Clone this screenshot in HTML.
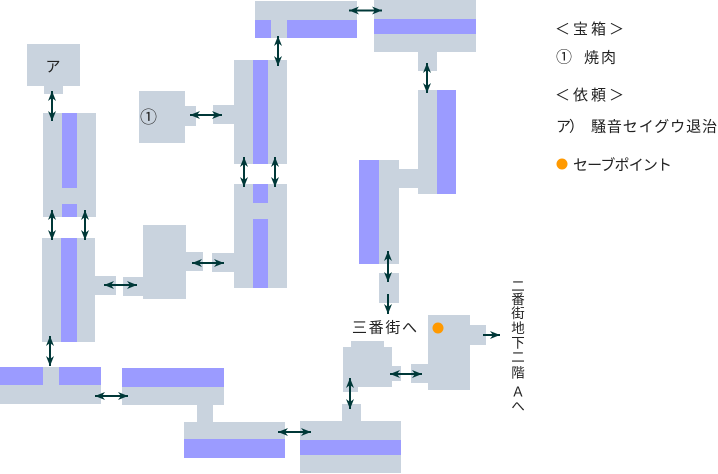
<!DOCTYPE html>
<html><head><meta charset="utf-8"><style>
html,body{margin:0;padding:0;background:#fff;}
svg{display:block;}
text{font-family:"Liberation Sans","Noto Sans CJK JP",sans-serif;fill:#222;}
</style></head><body>
<svg width="718" height="474" viewBox="0 0 718 474" xmlns="http://www.w3.org/2000/svg">
<defs>
<marker id="ah" viewBox="0 0 10 8" refX="10" refY="4" markerWidth="10" markerHeight="8" markerUnits="userSpaceOnUse" orient="auto-start-reverse">
<path d="M0,0 L10,4 L0,8 L3,4 z" fill="#003838"/>
</marker>
</defs>
<g fill="#c9d3de">
<rect x="27" y="44" width="53" height="42"/>
<rect x="44" y="86" width="19" height="8"/>
<rect x="43" y="113" width="53" height="104"/>
<rect x="42" y="238" width="53" height="104"/>
<rect x="95" y="276" width="21" height="19"/>
<rect x="123" y="277" width="20" height="19"/>
<rect x="143" y="225" width="43" height="74"/>
<rect x="186" y="252" width="17" height="19"/>
<rect x="212" y="253" width="22" height="19"/>
<rect x="139" y="91" width="46" height="52"/>
<rect x="185" y="106" width="11" height="20"/>
<rect x="213" y="105" width="21" height="19"/>
<rect x="234" y="60" width="53" height="104"/>
<rect x="234" y="184" width="53" height="104"/>
<rect x="255" y="1" width="102" height="37"/>
<rect x="374" y="0" width="102" height="52"/>
<rect x="418" y="52" width="19" height="19"/>
<rect x="418" y="90" width="19" height="104"/>
<rect x="399" y="169" width="19" height="19"/>
<rect x="379" y="160" width="20" height="104"/>
<rect x="379" y="273" width="20" height="30"/>
<rect x="428" y="315" width="42" height="75"/>
<rect x="470" y="325" width="16" height="20"/>
<rect x="411" y="364" width="17" height="19"/>
<rect x="351" y="341" width="33" height="46"/>
<rect x="343" y="347" width="49" height="40"/>
<rect x="343" y="347" width="15" height="45"/>
<rect x="392" y="366" width="9" height="15"/>
<rect x="342" y="404" width="19" height="17"/>
<rect x="300" y="421" width="101" height="52"/>
<rect x="184" y="422" width="101" height="36"/>
<rect x="197" y="405" width="16" height="17"/>
<rect x="122" y="368" width="102" height="37"/>
<rect x="0" y="367" width="101" height="37"/>
</g>
<g fill="#9b9bff">
<rect x="62" y="113" width="15" height="75"/>
<rect x="62" y="204" width="15" height="13"/>
<rect x="61" y="238" width="16" height="104"/>
<rect x="253" y="60" width="15" height="104"/>
<rect x="253" y="184" width="15" height="19"/>
<rect x="253" y="219" width="15" height="69"/>
<rect x="255" y="20" width="16" height="18"/>
<rect x="287" y="20" width="70" height="18"/>
<rect x="374" y="19" width="102" height="15"/>
<rect x="437" y="90" width="19" height="104"/>
<rect x="359" y="160" width="20" height="104"/>
<rect x="300" y="440" width="101" height="15"/>
<rect x="184" y="439" width="101" height="19"/>
<rect x="122" y="368" width="102" height="19"/>
<rect x="0" y="367" width="43" height="18"/>
<rect x="59" y="367" width="42" height="18"/>
</g>
<g stroke="#003838" stroke-width="2" fill="none" marker-start="url(#ah)" marker-end="url(#ah)">
<line x1="190" y1="115" x2="222" y2="115"/>
<line x1="104" y1="285" x2="137" y2="285"/>
<line x1="192" y1="263" x2="224" y2="263"/>
<line x1="349" y1="10.5" x2="382" y2="10.5"/>
<line x1="95" y1="396" x2="128" y2="396"/>
<line x1="278" y1="432" x2="311" y2="432"/>
<line x1="390" y1="374" x2="422" y2="374"/>
<line x1="52" y1="91" x2="52" y2="121"/>
<line x1="52" y1="210" x2="52" y2="240"/>
<line x1="85" y1="210" x2="85" y2="240"/>
<line x1="244" y1="157" x2="244" y2="187"/>
<line x1="275" y1="157" x2="275" y2="187"/>
<line x1="278" y1="36" x2="278" y2="66"/>
<line x1="427" y1="63" x2="427" y2="93"/>
<line x1="388" y1="251" x2="388" y2="282"/>
<line x1="50" y1="336" x2="50" y2="366"/>
<line x1="350" y1="378" x2="350" y2="409"/>
</g>
<g stroke="#003838" stroke-width="2" fill="none" marker-end="url(#ah)">
<line x1="388" y1="294" x2="388" y2="314"/>
<line x1="483" y1="335" x2="500" y2="335"/>
</g>
<circle cx="438" cy="328" r="5.5" fill="#ff9900"/>
<circle cx="562" cy="164" r="5.5" fill="#ff9900"/>
<text x="53" y="71.5" font-size="15" text-anchor="middle">ア</text>
<text x="140" y="123" font-size="17">①</text>
<text x="352" y="332.5" font-size="15" fill="#333" textLength="65" lengthAdjust="spacing">三番街へ</text>
<g font-size="13.5" text-anchor="middle" fill="#333">
<text x="518" y="291">二</text>
<text x="518" y="304">番</text>
<text x="518" y="318">街</text>
<text x="518" y="333">地</text>
<text x="518" y="347.5">下</text>
<text x="518" y="362">二</text>
<text x="518" y="377.5">階</text>
<text x="518" y="396.5">Ａ</text>
<text x="518" y="411">へ</text>
</g>
<g font-size="15">
<text x="555" y="34" textLength="69" lengthAdjust="spacing">＜宝箱＞</text>
<text x="556" y="62.5" font-size="16">①</text>
<text x="584" y="62.5" textLength="32" lengthAdjust="spacing">焼肉</text>
<text x="555" y="100" textLength="69" lengthAdjust="spacing">＜依頼＞</text>
<text x="556" y="131.5" textLength="28" lengthAdjust="spacing">ア）</text>
<text x="591" y="131.5" textLength="126" lengthAdjust="spacing">騒音セイグウ退治</text>
<text x="573" y="170" textLength="99" lengthAdjust="spacing">セーブポイント</text>
</g>
</svg>
</body></html>
